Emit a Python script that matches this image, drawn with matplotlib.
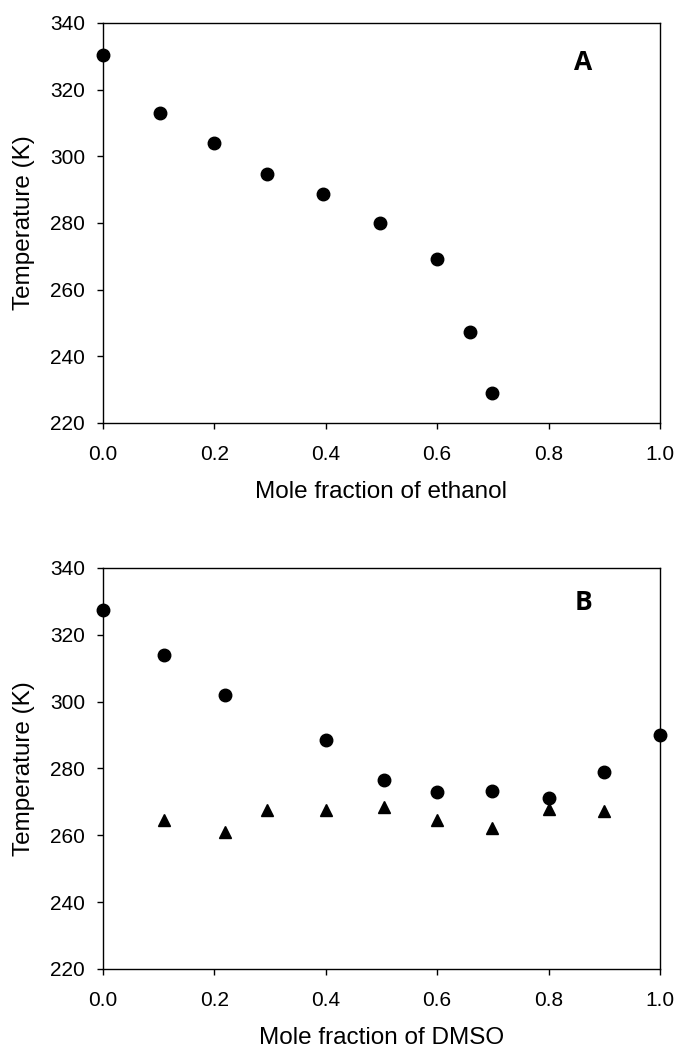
import matplotlib
matplotlib.use("Agg")
import matplotlib.pyplot as plt

plt.rcParams['font.family'] = ['Liberation Sans', 'DejaVu Sans']

# Panel A: ethanol
x_eth = [0.0, 0.103, 0.2, 0.295, 0.395, 0.497, 0.6, 0.659, 0.699]
t_eth = [330.3, 312.9, 304.0, 294.8, 288.6, 279.9, 269.2, 247.4, 229.0]

# Panel B: DMSO
x_dmso_c = [0.0, 0.109, 0.219, 0.4, 0.505, 0.6, 0.699, 0.8, 0.9, 1.0]
t_dmso_c = [327.4, 313.8, 301.9, 288.5, 276.6, 273.0, 273.3, 271.2, 278.9, 290.1]
x_dmso_t = [0.109, 0.219, 0.295, 0.4, 0.505, 0.6, 0.699, 0.8, 0.9]
t_dmso_t = [264.5, 260.9, 267.7, 267.6, 268.4, 264.7, 262.1, 267.8, 267.4]

xticks = [0.0, 0.2, 0.4, 0.6, 0.8, 1.0]
yticks = [220, 240, 260, 280, 300, 320, 340]

fig = plt.figure(figsize=(6.78, 10.49), dpi=100)
ax1 = fig.add_axes([0.1519, 0.5968, 0.8215, 0.3813])
ax2 = fig.add_axes([0.1519, 0.0763, 0.8215, 0.3823])


def style(ax, xlabel, letter, ly):
    ax.set_xlim(0, 1)
    ax.set_ylim(220, 340)
    ax.set_xticks(xticks)
    ax.set_xticklabels([f"{v:.1f}" for v in xticks])
    ax.set_yticks(yticks)
    ax.tick_params(direction='out', length=4.3, width=1, labelsize=15,
                   top=False, right=False)
    ax.tick_params(axis='x', pad=11.5)
    ax.tick_params(axis='y', pad=8.6)
    for s in ax.spines.values():
        s.set_linewidth(1)
    ax.set_xlabel(xlabel, fontsize=17.5, labelpad=12)
    ax.set_ylabel("Temperature (K)", fontsize=17.5, labelpad=10.5)
    ax.text(0.862, ly, letter, transform=ax.transAxes, fontsize=19,
            fontweight='bold', family='Open Sans', ha='center', va='center')


ax1.plot(x_eth, t_eth, 'o', color='black', markersize=9, clip_on=False)
style(ax1, "Mole fraction of ethanol", "A", 0.901)

ax2.plot(x_dmso_c, t_dmso_c, 'o', color='black', markersize=9, clip_on=False)
ax2.plot(x_dmso_t, t_dmso_t, '^', color='black', markersize=8, clip_on=False)
style(ax2, "Mole fraction of DMSO", "B", 0.913)

plt.savefig("out.png", dpi=100)
